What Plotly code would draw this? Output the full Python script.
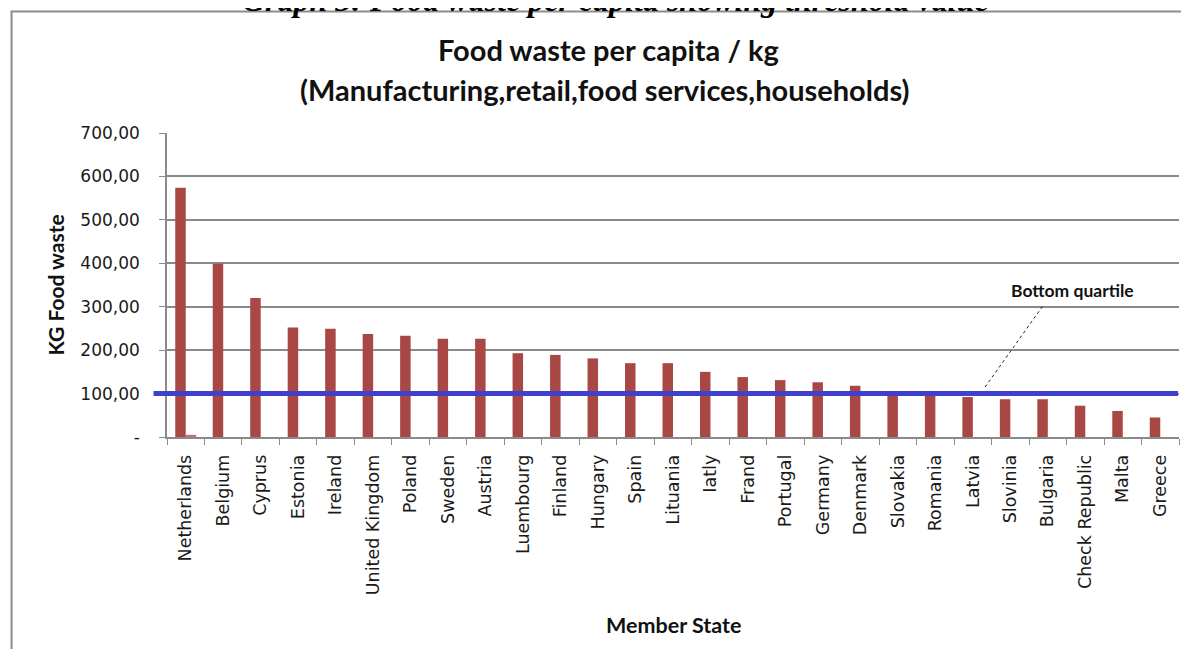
import plotly.graph_objects as go

countries = ["Netherlands", "Belgium", "Cyprus", "Estonia", "Ireland", "United Kingdom",
             "Poland", "Sweden", "Austria", "Luembourg", "Finland", "Hungary", "Spain",
             "Lituania", "Iatly", "Frand", "Portugal", "Germany", "Denmark", "Slovakia",
             "Romania", "Latvia", "Slovinia", "Bulgaria", "Check Republic", "Malta", "Greece"]
waste_kg = [574, 399, 320, 252, 249, 237, 233, 226, 226, 193, 189, 181, 170, 170, 150,
            138, 131, 126, 118, 100, 100, 92, 87, 87, 72, 60, 45]
second_series = [5, 0, 0, 0, 0, 0, 0, 0, 0, 0, 0, 0, 0, 0, 0, 0, 0, 0, 0, 0, 0, 0, 0, 0, 0, 0, 0]
threshold = 100
y_tickvals = [0, 100, 200, 300, 400, 500, 600, 700]
y_ticktext = ["-", "100,00", "200,00", "300,00", "400,00", "500,00", "600,00", "700,00"]

BAR = "#A94744"
GRID = "#8a8a8a"
FONT = "Lato"
TICKFONT = "DejaVu Sans"

fig = go.Figure()
fig.add_trace(go.Bar(x=countries, y=waste_kg, marker=dict(color=BAR, line=dict(width=0)),
                     showlegend=False, hoverinfo="x+y"))
fig.add_trace(go.Bar(x=countries, y=second_series, marker=dict(color="#C9706D", line=dict(width=0)),
                     showlegend=False, hoverinfo="x+y"))

fig.update_layout(
    width=1173, height=641,
    margin=dict(l=158.5, r=2, t=125.4, b=212.3),
    paper_bgcolor="white", plot_bgcolor="white",
    barmode="group", bargap=0.44, bargroupgap=0,
    font=dict(family=FONT, color="#1a1a1a"),
    showlegend=False,
)
fig.update_xaxes(
    type="category", tickson="boundaries", ticks="outside", ticklen=6, tickcolor=GRID,
    showline=True, linecolor=GRID, linewidth=1.5, showgrid=False,
    tickangle=-90, tickfont=dict(family=TICKFONT, size=17.5, color="#1a1a1a"),
    ticklabelstandoff=9,
)
fig.update_yaxes(
    range=[0, 700], tickvals=y_tickvals, ticktext=y_ticktext,
    ticks="outside", ticklen=6, tickcolor=GRID,
    showline=True, linecolor=GRID, linewidth=1.5,
    showgrid=True, gridcolor=GRID, gridwidth=1.5, zeroline=False,
    tickfont=dict(family=TICKFONT, size=17, color="#1a1a1a"),
    ticklabelstandoff=16,
)

# outer chart frame
fig.add_shape(type="rect", xref="paper", yref="paper", x0=-0.1536, x1=1.05, y0=-0.9, y1=1.400,
              line=dict(color="#8c8c8c", width=2), fillcolor="rgba(0,0,0,0)", layer="below")
# threshold line
fig.add_shape(type="line", xref="paper", yref="y", x0=-0.0133, x1=0.999, y0=threshold, y1=threshold,
              line=dict(color="#4040CC", width=5))
# callout line
fig.add_shape(type="line", xref="paper", yref="y", x0=0.8084, x1=0.8667, y0=115, y1=306,
              line=dict(color="#222222", width=1, dash="dot"))

fig.add_annotation(xref="paper", yref="y", x=0.8948, y=338, text="<b>Bottom quartile</b>",
                   showarrow=False, xanchor="center", yanchor="middle",
                   font=dict(family=FONT, size=17.5, color="#111111"))
fig.add_annotation(xref="paper", yref="paper", x=(608 - 166.5) / 1012.5, y=(436.7 - 50) / 303.3,
                   text="<b>Food waste per capita / kg</b>", showarrow=False, xanchor="center",
                   font=dict(family=FONT, size=29, color="#111111"), yanchor="middle")
fig.add_annotation(xref="paper", yref="paper", x=(605 - 166.5) / 1012.5, y=(436.7 - 90) / 303.3,
                   text="<b>(Manufacturing,retail,food services,households)</b>", showarrow=False,
                   xanchor="center",
                   font=dict(family=FONT, size=29, color="#111111"), yanchor="middle")
# axis titles
fig.add_annotation(xref="paper", yref="paper", x=(55 - 166.5) / 1012.5, y=(436.7 - 285) / 303.3,
                   text="<b>KG Food waste</b>", showarrow=False, textangle=-90,
                   xanchor="center", yanchor="middle",
                   font=dict(family=FONT, size=21, color="#111111"))
fig.add_annotation(xref="paper", yref="paper", x=(673 - 166.5) / 1012.5, y=(436.7 - 624) / 303.3,
                   text="<b>Member State</b>", showarrow=False, xanchor="center", yanchor="middle",
                   font=dict(family=FONT, size=21.5, color="#111111"))
# cut-off document caption above the chart
fig.add_annotation(xref="paper", yref="paper", x=(615 - 166.5) / 1012.5, y=(436.7 - 0.5) / 303.3,
                   text="<b><i>Graph 3: Food waste per capita showing threshold value</i></b>",
                   showarrow=False, xanchor="center", yanchor="middle",
                   font=dict(family="Liberation Serif", size=32, color="#000000"))

fig.write_html("out.html")
